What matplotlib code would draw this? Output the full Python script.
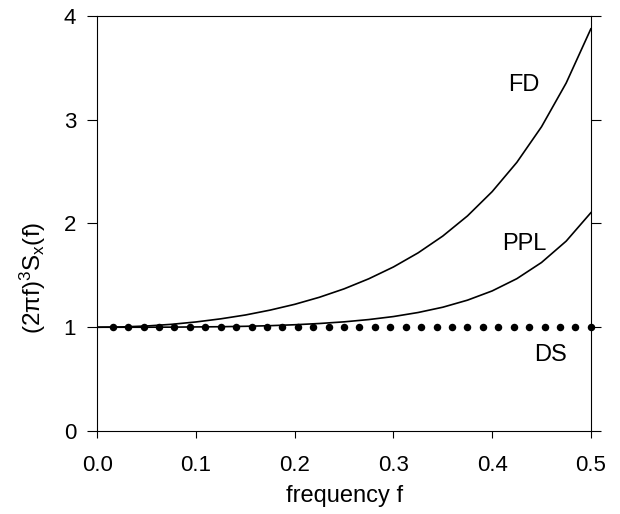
import matplotlib
matplotlib.use('Agg')
import matplotlib.pyplot as plt

plt.rcParams['font.family'] = ['Liberation Sans', 'DejaVu Sans']
plt.rcParams['mathtext.fontset'] = 'custom'
plt.rcParams['mathtext.rm'] = 'Liberation Sans'
plt.rcParams['mathtext.it'] = 'Liberation Sans'

# valores
freq = [0.0, 0.025, 0.05, 0.075, 0.1, 0.125, 0.15, 0.175, 0.2, 0.225, 0.25,
        0.275, 0.3, 0.325, 0.35, 0.375, 0.4, 0.425, 0.45, 0.475, 0.5]
fd = [1.000, 1.003, 1.012, 1.028, 1.051, 1.081, 1.118, 1.165, 1.221, 1.289, 1.370,
      1.467, 1.581, 1.717, 1.879, 2.073, 2.307, 2.589, 2.932, 3.354, 3.876]
ppl = [1.000, 1.000, 1.000, 1.001, 1.003, 1.005, 1.009, 1.015, 1.024, 1.036, 1.052,
       1.074, 1.103, 1.142, 1.193, 1.261, 1.350, 1.468, 1.624, 1.830, 2.104]

ds_freq = [0.0156, 0.0313, 0.0469, 0.0625, 0.0781, 0.0938, 0.1094, 0.125,
           0.1406, 0.1563, 0.1719, 0.1875, 0.2031, 0.2188, 0.2344, 0.25,
           0.2656, 0.2813, 0.2969, 0.3125, 0.3281, 0.3438, 0.3594, 0.375,
           0.3906, 0.4063, 0.4219, 0.4375, 0.4531, 0.4688, 0.4844, 0.5]
ds = [1.0] * len(ds_freq)

x_ticks = [0.0, 0.1, 0.2, 0.3, 0.4, 0.5]
y_ticks = [0, 1, 2, 3, 4]

fig = plt.figure(figsize=(6.2, 5.14), dpi=100)
ax = fig.add_axes([0.157, 0.1615, 0.796, 0.8074])

ax.plot(freq, fd, color='black', lw=1.2)
ax.plot(freq, ppl, color='black', lw=1.2)
ax.plot(ds_freq, ds, 'o', color='black', ms=5.4, mew=0, zorder=3, clip_on=False)

# rótulos das curvas
ax.text(0.432, 3.335, 'FD', fontsize=17, ha='center', va='center')
ax.text(0.4325, 1.80, 'PPL', fontsize=17, ha='center', va='center')
ax.text(0.459, 0.733, 'DS', fontsize=17, ha='center', va='center')

ax.set_xlim(0, 0.5)
ax.set_ylim(0, 4)
ax.set_xticks(x_ticks)
ax.set_xticklabels([f'{v:.1f}' for v in x_ticks])
ax.set_yticks(y_ticks)
ax.set_yticklabels([str(v) for v in y_ticks])

ax.tick_params(axis='x', direction='out', length=5, width=0.8, labelsize=16, pad=12)
ax.tick_params(axis='y', direction='out', length=7.2, width=0.8, labelsize=16, pad=8,
               right=True)
for s in ax.spines.values():
    s.set_linewidth(0.8)

ax.set_xlabel('frequency f', fontsize=17)
ax.xaxis.set_label_coords(0.5, -0.13)
ax.set_ylabel('(2πf)$^3$S$_x$(f)', fontsize=17.5)
ax.yaxis.set_label_coords(-0.10, 0.37)

fig.savefig('out.png', dpi=100)
